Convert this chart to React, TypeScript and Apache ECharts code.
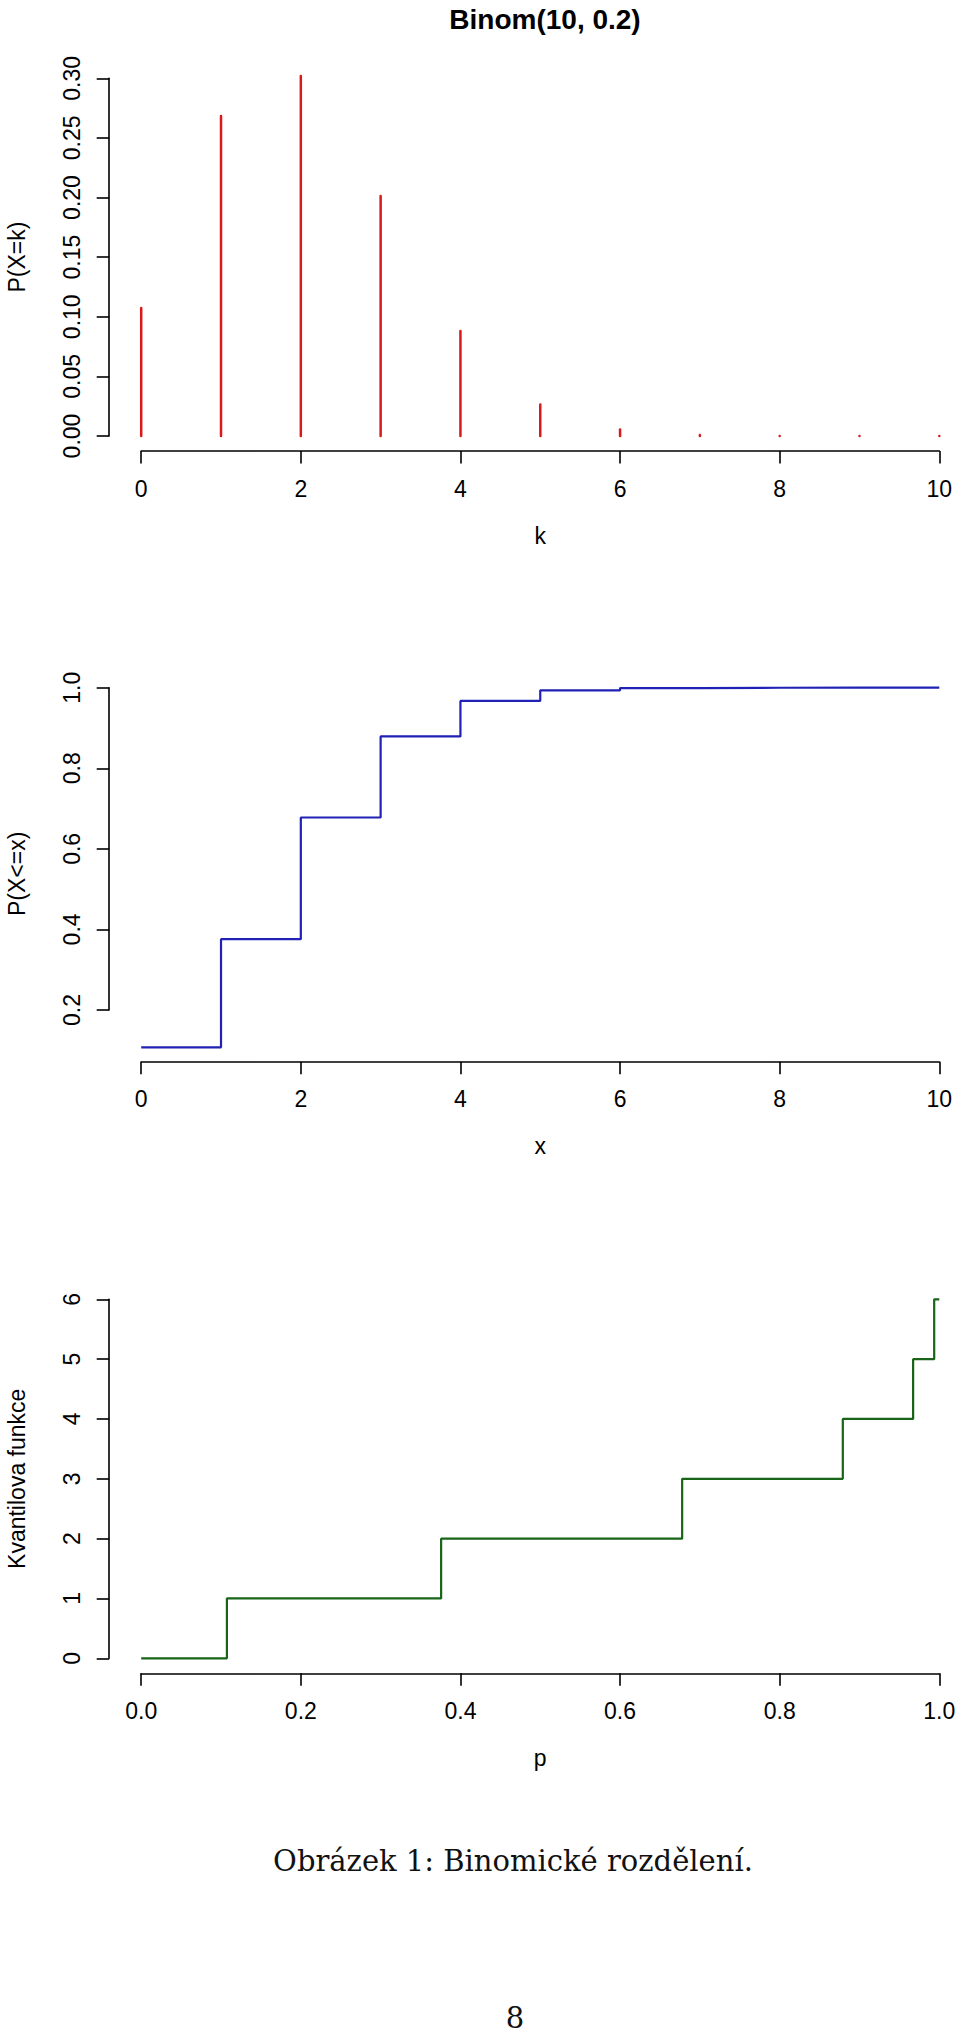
import React, { useEffect, useRef } from "react";
import * as echarts from "echarts";

// ---- data ----
const kValues = [0, 1, 2, 3, 4, 5, 6, 7, 8, 9, 10];
const pmfValues = [0.1074, 0.2684, 0.302, 0.2013, 0.0881, 0.0264, 0.0055, 0.0008, 0.00007, 0.000004, 0.0000001];
const cdfValues = [0.1074, 0.3758, 0.6778, 0.8791, 0.9672, 0.9936, 0.9991, 0.9999, 1.0, 1.0, 1.0];
const quantileP = [0, 0.1074, 0.3758, 0.6778, 0.8791, 0.9672, 0.9936, 1.0];
const quantileQ = [0, 1, 2, 3, 4, 5, 6, 6];

const titleText = "Binom(10, 0.2)";
const captionText = "Obrázek 1: Binomické rozdělení.";
const pageNumber = "8";

const FONT = "'Liberation Sans', Arial, Helvetica, sans-serif";
const SERIF = "'DejaVu Serif', 'Liberation Serif', serif";
const RED = "#d81a1a";
const BLUE = "#1f22b4";
const GREEN = "#186418";
const FS = 23;

const axisLineStyle = { color: "#000", width: 1.6 };

function xAxisCfg(gridIndex: number, min: number, max: number, interval: number, name: string, offset: number, digits: number) {
  return {
    type: "value",
    gridIndex,
    min,
    max,
    interval,
    position: "bottom",
    offset,
    name,
    nameLocation: "middle",
    nameGap: 73,
    nameTextStyle: { fontSize: FS, color: "#000", fontFamily: FONT },
    axisLine: { show: true, onZero: false, lineStyle: axisLineStyle },
    axisTick: { show: true, inside: false, length: 12.5, lineStyle: axisLineStyle },
    axisLabel: {
      show: true,
      margin: 26,
      fontSize: FS,
      color: "#000",
      fontFamily: FONT,
      showMinLabel: true,
      showMaxLabel: true,
      formatter: (v: number) => v.toFixed(digits),
    },
    splitLine: { show: false },
  };
}

function yAxisCfg(gridIndex: number, min: number, max: number, interval: number, name: string, digits: number, namePadding: number[]) {
  return {
    type: "value",
    gridIndex,
    min,
    max,
    interval,
    position: "left",
    offset: 32,
    name,
    nameLocation: "middle",
    nameGap: 81,
    nameTextStyle: { fontSize: FS, color: "#000", fontFamily: FONT, padding: namePadding },
    axisLine: { show: true, onZero: false, lineStyle: axisLineStyle },
    axisTick: { show: true, inside: false, length: 12.5, lineStyle: axisLineStyle },
    axisLabel: {
      show: true,
      rotate: 90,
      margin: 26,
      fontSize: FS,
      color: "#000",
      fontFamily: FONT,
      showMinLabel: true,
      showMaxLabel: true,
      formatter: (v: number) => v.toFixed(digits),
    },
    splitLine: { show: false },
  };
}

export default function App() {
  const ref = useRef<HTMLDivElement>(null);

  useEffect(() => {
    if (!ref.current) return;
    const chart = echarts.init(ref.current, undefined, { renderer: "svg" });

    const pmfData = kValues.map((k, i) => [k, pmfValues[i]]);
    const cdfData = kValues.map((k, i) => [k, cdfValues[i]]);
    const qData = quantileP.map((p, i) => [p, quantileQ[i]]);

    const gridBase = { containLabel: false, outerBoundsMode: "none" };

    const option: any = {
      animation: false,
      backgroundColor: "#ffffff",
      title: {
        text: titleText,
        left: 540,
        top: 0,
        textAlign: "center",
        textStyle: { fontSize: 28, fontWeight: "bold", color: "#000", fontFamily: FONT },
      },
      grid: [
        { ...gridBase, left: 141.2, top: 78.3, width: 798.1, height: 357.7 },
        { ...gridBase, left: 141.2, top: 687.7, width: 798.1, height: 322.3 },
        { ...gridBase, left: 141.2, top: 1299.3, width: 798.1, height: 359 },
      ],
      xAxis: [
        xAxisCfg(0, 0, 10, 2, "k", 15, 0),
        xAxisCfg(1, 0, 10, 2, "x", 51.7, 0),
        xAxisCfg(2, 0, 1, 0.2, "p", 15, 1),
      ],
      yAxis: [
        yAxisCfg(0, 0, 0.3, 0.05, "P(X=k)", 2, [0, 0, 0, 0]),
        yAxisCfg(1, 0.2, 1.0, 0.2, "P(X<=x)", 1, [0, 50, 0, 0]),
        yAxisCfg(2, 0, 6, 1, "Kvantilova funkce", 0, [0, 0, 0, 0]),
      ],
      series: [
        {
          type: "custom",
          xAxisIndex: 0,
          yAxisIndex: 0,
          clip: false,
          data: pmfData,
          encode: { x: 0, y: 1 },
          renderItem: (params: any, api: any) => {
            const x = api.value(0);
            const y = api.value(1);
            const p0 = api.coord([x, 0]);
            const p1 = api.coord([x, y]);
            return {
              type: "line",
              shape: { x1: p0[0], y1: p0[1], x2: p1[0], y2: p1[1] },
              style: { stroke: RED, lineWidth: 2.5, lineCap: "round" },
            };
          },
        },
        {
          type: "line",
          xAxisIndex: 1,
          yAxisIndex: 1,
          data: cdfData,
          step: "end",
          clip: false,
          symbol: "none",
          lineStyle: { color: BLUE, width: 2.2 },
        },
        {
          type: "line",
          xAxisIndex: 2,
          yAxisIndex: 2,
          data: qData,
          step: "end",
          clip: false,
          symbol: "none",
          lineStyle: { color: GREEN, width: 2.2 },
        },
      ],
      graphic: [
        {
          type: "text",
          x: 513,
          y: 1861,
          style: {
            text: captionText,
            fontSize: 29,
            fontFamily: SERIF,
            fill: "#111",
            align: "center",
            verticalAlign: "middle",
          },
        },
        {
          type: "text",
          x: 515,
          y: 2018,
          style: {
            text: pageNumber,
            fontSize: 29,
            fontFamily: SERIF,
            fill: "#111",
            align: "center",
            verticalAlign: "middle",
          },
        },
      ],
    };

    chart.setOption(option);
    return () => {
      chart.dispose();
    };
  }, []);

  return (
    <div
      ref={ref}
      style={{ position: "absolute", left: 0, top: 0, width: 960, height: 2035, background: "#fff" }}
    />
  );
}
